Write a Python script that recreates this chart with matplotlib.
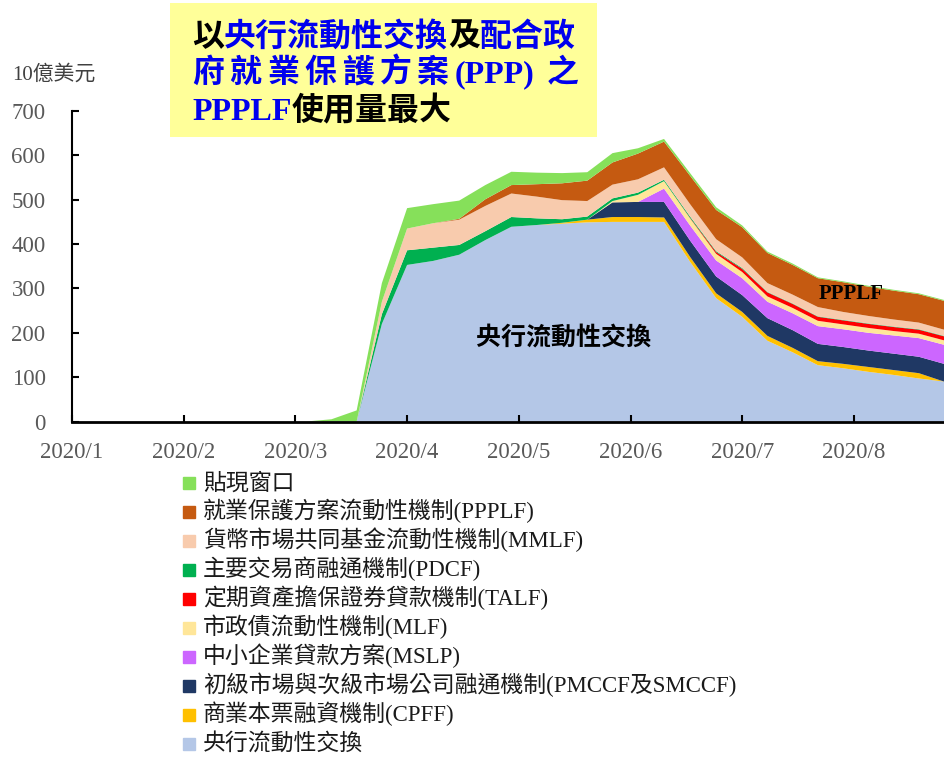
import numpy as np
import pandas as pd
import matplotlib
matplotlib.use('Agg')
import matplotlib.pyplot as plt
from matplotlib.patches import Rectangle

# fonts: latin in Times-like serif, chinese falls back to Noto CJK
CJK = 'Noto Sans CJK TC'
MIX = ['Liberation Serif', 'Noto Sans CJK TC']

# weekly (Wednesday) readings, 10億美元
dates = pd.date_range('2020-01-01', '2020-08-26', freq='7D')

swaps = [0, 0, 0, 0, 0, 0, 0, 0, 0, 0, 0, 0, 220, 353, 362, 376, 409, 439, 443, 446, 449, 450,
         450, 450, 360, 278, 236, 182, 156, 127, 120, 112, 105, 97, 90]
cpff = [0, 0, 0, 0, 0, 0, 0, 0, 0, 0, 0, 0, 0, 0, 0, 0, 0, 0, 0, 2, 6, 11,
        11, 10, 11, 11, 11, 11, 10, 9, 10, 11, 11, 12, 0]
ccf = [0, 0, 0, 0, 0, 0, 0, 0, 0, 0, 0, 0, 0, 0, 0, 0, 0, 0, 0, 0, 0, 33,
       34, 35, 37, 38, 38, 40, 40, 39, 38, 37, 37, 37, 40]
mslp = [0, 0, 0, 0, 0, 0, 0, 0, 0, 0, 0, 0, 0, 0, 0, 0, 0, 0, 0, 0, 0, 0,
        0, 30, 34, 36, 38, 37, 38, 40, 40, 40, 41, 42, 43]
mlf = [0, 0, 0, 0, 0, 0, 0, 0, 0, 0, 0, 0, 0, 0, 0, 0, 0, 0, 0, 0, 0, 3,
       16, 17, 16, 15, 14, 12, 12, 12, 11, 11, 10, 10, 10]
talf = [0, 0, 0, 0, 0, 0, 0, 0, 0, 0, 0, 0, 0, 0, 0, 0, 0, 0, 0, 0, 0, 0,
        0, 0, 1, 4, 7, 9, 9, 9, 9, 9, 9, 9, 9]
pdcf = [0, 0, 0, 0, 0, 0, 0, 0, 0, 0, 0, 0, 22, 33, 30, 22, 20, 22, 15, 8, 7, 6,
        5, 3, 3, 2, 2, 1, 1, 1, 1, 1, 1, 1, 1]
mmlf = [0, 0, 0, 0, 0, 0, 0, 0, 0, 0, 0, 0, 28, 49, 55, 57, 57, 53, 49, 43, 35, 31,
        30, 28, 28, 27, 24, 20, 20, 21, 18, 17, 16, 15, 14]
ppplf = [0, 0, 0, 0, 0, 0, 0, 0, 0, 0, 0, 0, 0, 0, 0, 2, 15, 19, 28, 38, 46, 50,
         58, 58, 64, 66, 68, 68, 67, 65, 67, 66, 65, 64, 65]
dw = [0, 0, 0, 0, 0, 0, 0, 0, 0, 0, 5, 25, 42, 46, 43, 41, 32, 30, 26, 23, 19, 21,
      12, 6, 6, 6, 4, 3, 3, 2, 2, 2, 2, 2, 2]

series = [swaps, cpff, ccf, mslp, mlf, talf, pdcf, mmlf, ppplf, dw]
names = ['央行流動性交換', '商業本票融資機制(CPFF)', '初級市場與次級市場公司融通機制(PMCCF及SMCCF)',
         '中小企業貸款方案(MSLP)', '市政債流動性機制(MLF)', '定期資產擔保證券貸款機制(TALF)',
         '主要交易商融通機制(PDCF)', '貨幣市場共同基金流動性機制(MMLF)', '就業保護方案流動性機制(PPPLF)',
         '貼現窗口']
colors = ['#B4C7E7', '#FFC000', '#1F3864', '#CC66FF', '#FFE699', '#FF0000',
          '#00B050', '#F8CBAD', '#C55A11', '#86E05A']
month_labels = ['2020/1', '2020/2', '2020/3', '2020/4', '2020/5', '2020/6', '2020/7', '2020/8']

W, H = 944, 757
fig = plt.figure(figsize=(W / 100, H / 100), dpi=100)
ax = fig.add_axes([72 / W, 1 - 421.5 / H, (W - 72) / W, (421.5 - 111) / H])

# month position as fraction of months since 2020/1
x = np.asarray(dates.month - 1 + (dates.day - 1) / dates.days_in_month, dtype=float)
ax.stackplot(x, *series, colors=colors, linewidth=0)

ax.set_xlim(0, x[-1])
ax.set_ylim(0, 700)
ax.set_xticks(range(len(month_labels)))
ax.set_xticklabels(month_labels)
ax.set_yticks(range(0, 701, 100))
for s in ['top', 'right']:
    ax.spines[s].set_visible(False)
ax.spines['left'].set_linewidth(1.5)
ax.spines['bottom'].set_linewidth(2)
ax.tick_params(axis='both', direction='in', length=5, width=1.5, colors='black',
               labelcolor='#595959', labelsize=16.5)
ax.tick_params(axis='x', pad=15)
ax.tick_params(axis='y', pad=19)
for lab in ax.get_xticklabels() + ax.get_yticklabels():
    lab.set_family('Liberation Serif')

ax.text(4.396, 190, '央行流動性交換', ha='center', va='center', fontsize=18,
        family=CJK, weight='bold', color='black')
ax.text(6.974, 287, 'PPPLF', ha='center', va='center', fontsize=15,
        family='Liberation Serif', weight='bold', color='black')

# unit label
fig.text(12 / W, 1 - 80 / H, '10億美元', fontsize=15, family=MIX, color='#404040', va='baseline')

# legend drawn by hand, top entry first
for i, (nm, c) in enumerate(zip(names[::-1], colors[::-1])):
    yc = 482.5 + 29 * i
    fig.add_artist(Rectangle((183 / W, 1 - (yc + 6) / H), 12 / W, 12 / H,
                             transform=fig.transFigure, color=c))
    fig.text(203 / W, 1 - (yc + 7) / H, nm, fontsize=16.5, family=MIX,
             color='#1a1a1a', va='baseline')

# highlighted note box
fig.add_artist(Rectangle((170 / W, 1 - 137 / H), (597 - 170) / W, (137 - 3) / H,
                         transform=fig.transFigure, facecolor='#FFFF99',
                         edgecolor='none', zorder=5))
blue = '#0000EE'
renderer = fig.canvas.get_renderer()


def put_line(x0, y0, segs, size=23):
    xx = x0
    for s, c in segs:
        t = fig.text(xx / W, 1 - y0 / H, s, fontsize=size, family=MIX, weight='bold',
                     color=c, va='baseline', zorder=6)
        xx += t.get_window_extent(renderer).width
    return xx


put_line(192, 46, [('以', 'black'), ('央行流動性交換', blue), ('及', 'black'), ('配合政', blue)])
# second line is letter-spaced in the original
for k, ch in enumerate('府就業保護方案'):
    put_line(192 + 37.5 * k, 82, [(ch, blue)])
put_line(455, 82, [('(PPP)', blue)])
put_line(547, 82, [('之', blue)])
put_line(192, 120, [('PPPLF', blue), ('使用量最大', 'black')])

fig.savefig('out.png', dpi=100)
